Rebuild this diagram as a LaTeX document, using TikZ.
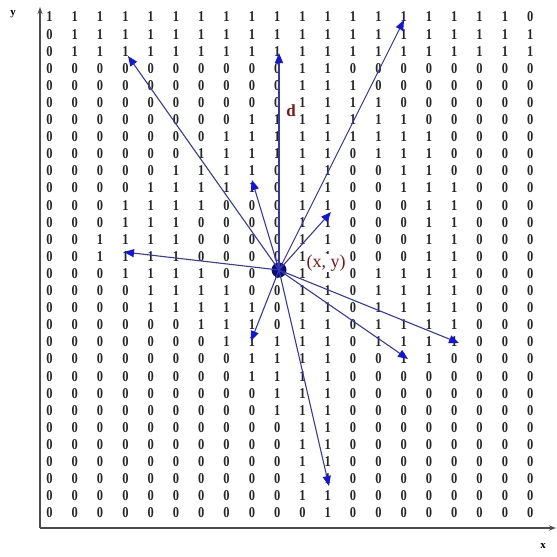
\documentclass[tikz,border=0pt]{standalone}
\usepackage{fontspec}
\setmainfont{Liberation Serif}
\usetikzlibrary{arrows.meta}
\definecolor{arrowline}{RGB}{55,55,175}
\definecolor{arrowhead}{RGB}{20,20,225}
\definecolor{labelred}{RGB}{130,20,20}
\definecolor{ptnavy}{RGB}{10,10,120}
\tikzset{
  digit/.style={inner sep=0pt, text=black!85, font=\fontsize{12.5}{12.5}\selectfont\bfseries},
  vec/.style={draw=arrowline, line width=1.1pt, -{Triangle[length=10pt,width=8pt,color=arrowhead]}},
  axis/.style={draw=black!70, line width=1.6pt, -{Stealth[length=7pt,width=5pt]}},
  axlabel/.style={inner sep=0pt, font=\fontsize{11}{11}\selectfont\bfseries},
  redlabel/.style={inner sep=1pt, text=labelred, font=\fontsize{18}{18}\selectfont}
}
\begin{document}
\begin{tikzpicture}[x=1pt,y=-1pt]
\useasboundingbox (0,0) rectangle (557,557);
% digits
\foreach \row [count=\r] in {
{1,1,1,1,1,1,1,1,1,1,1,1,1,1,1,1,1,1,1,0},
{0,1,1,1,1,1,1,1,1,1,1,1,1,1,1,1,1,1,1,1},
{0,1,1,1,1,1,1,1,1,1,1,1,1,1,1,1,1,1,1,1},
{0,0,0,0,0,0,0,0,0,0,1,1,0,0,0,0,0,0,0,0},
{0,0,0,0,0,0,0,0,0,0,1,1,1,0,0,0,0,0,0,0},
{0,0,0,0,0,0,0,0,0,0,1,1,1,1,0,0,0,0,0,0},
{0,0,0,0,0,0,0,0,1,1,1,1,1,1,1,0,0,0,0,0},
{0,0,0,0,0,0,0,1,1,1,1,1,1,1,1,1,0,0,0,0},
{0,0,0,0,0,0,1,1,1,1,1,1,0,1,1,1,0,0,0,0},
{0,0,0,0,0,1,1,1,1,0,1,1,0,0,1,1,0,0,0,0},
{0,0,0,0,1,1,1,1,1,0,1,1,0,0,1,1,1,0,0,0},
{0,0,0,1,1,1,1,0,0,0,1,1,0,0,0,1,1,0,0,0},
{0,0,0,1,1,1,0,0,0,0,1,1,0,0,0,1,1,0,0,0},
{0,0,1,1,1,1,0,0,0,0,1,1,0,0,0,1,1,0,0,0},
{0,0,1,1,1,1,0,0,0,0,1,1,0,0,0,1,1,0,0,0},
{0,0,0,1,1,1,1,0,0,0,1,1,0,1,1,1,1,0,0,0},
{0,0,0,0,1,1,1,1,0,0,1,1,0,1,1,1,1,0,0,0},
{0,0,0,0,1,1,1,1,1,0,1,1,0,1,1,1,1,0,0,0},
{0,0,0,0,0,0,1,1,1,0,1,1,0,1,1,1,1,0,0,0},
{0,0,0,0,0,0,0,1,1,1,1,1,0,1,1,1,1,0,0,0},
{0,0,0,0,0,0,0,0,1,1,1,1,0,0,1,1,0,0,0,0},
{0,0,0,0,0,0,0,0,1,1,1,1,0,0,0,0,0,0,0,0},
{0,0,0,0,0,0,0,0,0,1,1,1,0,0,0,0,0,0,0,0},
{0,0,0,0,0,0,0,0,0,1,1,1,0,0,0,0,0,0,0,0},
{0,0,0,0,0,0,0,0,0,0,1,1,0,0,0,0,0,0,0,0},
{0,0,0,0,0,0,0,0,0,0,1,1,0,0,0,0,0,0,0,0},
{0,0,0,0,0,0,0,0,0,0,1,1,0,0,0,0,0,0,0,0},
{0,0,0,0,0,0,0,0,0,0,1,1,0,0,0,0,0,0,0,0},
{0,0,0,0,0,0,0,0,0,0,1,1,0,0,0,0,0,0,0,0},
{0,0,0,0,0,0,0,0,0,0,0,1,0,0,0,0,0,0,0,0}}
{
  \foreach \v [count=\c] in \row {
    \node[digit] (d-\r-\c) at ({49.5+(\c-1)*25.3},{17+(\r-1)*17.1}) {\scalebox{1}[1.2]{\v}};
  }
}
% axes
\coordinate (origin) at (40,528);
\coordinate (ytip) at (40,7);
\coordinate (xtip) at (556,528);
\draw[axis] (origin) -- (ytip);
\draw[axis] (origin) -- (xtip);
\node[axlabel] (ylab) at (13,14) {y};
\node[axlabel] (xlab) at (543,546) {x};
% labels
\node[redlabel, fill=white] (xy) at (326,263) {(x, y)};
\node[redlabel, font=\fontsize{17}{17}\selectfont\bfseries] (dlab) at (291,111) {d};
% point
\node[circle, fill=ptnavy, inner sep=0pt, minimum size=15pt] (pt) at (279,270) {};
% arrow ends
\coordinate (e1) at (128,56);
\coordinate (e2) at (279,53);
\coordinate (e3) at (404,20);
\coordinate (e4) at (252,180);
\coordinate (e5) at (331,212);
\coordinate (e6) at (124,252);
\coordinate (e7) at (251,341);
\coordinate (e8) at (329,486);
\coordinate (e9) at (408,359);
\coordinate (e10) at (459,343);
\foreach \e in {e1,e2,e3,e4,e5,e6,e7,e8,e9,e10}
  \draw[vec] (pt.center) -- (\e);
\end{tikzpicture}
\end{document}
